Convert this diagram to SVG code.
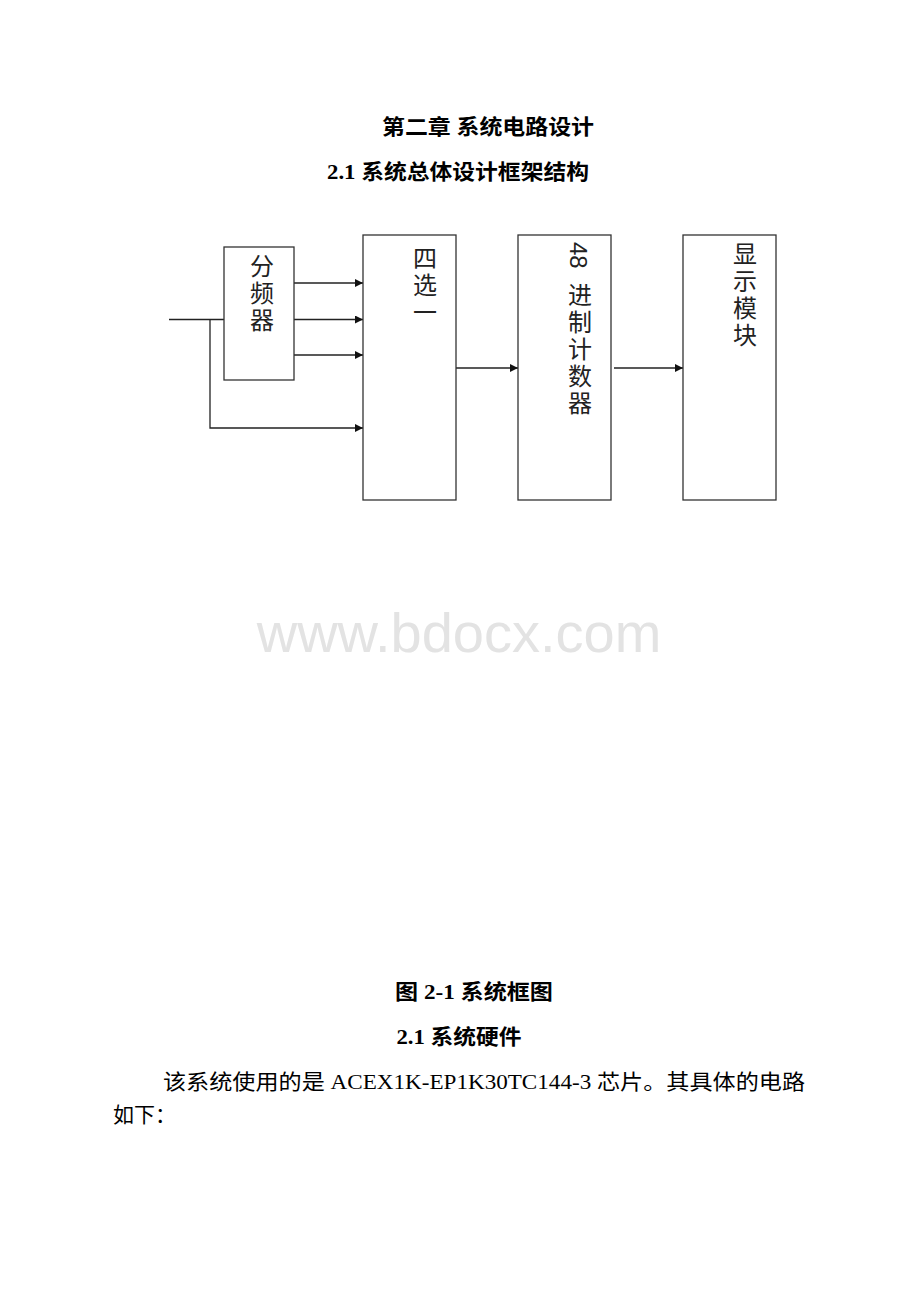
<svg xmlns="http://www.w3.org/2000/svg" width="920" height="1302" viewBox="0 0 920 1302">
<defs>
<marker id="arr" viewBox="0 0 10 10" refX="10" refY="5" markerWidth="8" markerHeight="8" markerUnits="userSpaceOnUse" orient="auto">
<path d="M0,0 L10,5 L0,10 z" fill="#111"/>
</marker>
<style>
.box{fill:#fff;stroke:#333;stroke-width:1.3}
.ln{fill:none;stroke:#222;stroke-width:1.3}
.lbl{font-family:"Liberation Sans","Noto Sans CJK SC",sans-serif;font-size:24px;fill:#222;writing-mode:vertical-rl;letter-spacing:3px}
.h{font-family:"Liberation Serif","Noto Sans CJK SC",serif;font-weight:bold;font-size:21px;fill:#000;text-anchor:middle}
.body{font-family:"Liberation Serif","Noto Sans CJK SC",serif;font-size:21px;fill:#000}
.wm{font-family:"Liberation Sans",Arial,sans-serif;font-size:56px;fill:#e3e3e3;text-anchor:middle}
</style>
</defs>
<rect width="920" height="1302" fill="#fff"/>
<text class="h" x="488" y="134" textLength="212" lengthAdjust="spacingAndGlyphs">第二章 系统电路设计</text>
<text class="h" x="458" y="179" textLength="262" lengthAdjust="spacingAndGlyphs">2.1 系统总体设计框架结构</text>

<g id="connectors">
<path class="ln" d="M169,319.5 H224"/>
<path class="ln" d="M210,319.5 V428 H363" marker-end="url(#arr)"/>
<path class="ln" d="M294,283 H363" marker-end="url(#arr)"/>
<path class="ln" d="M294,319.5 H363" marker-end="url(#arr)"/>
<path class="ln" d="M294,355 H363" marker-end="url(#arr)"/>
<path class="ln" d="M456,368 H518" marker-end="url(#arr)"/>
<path class="ln" d="M614,368 H683" marker-end="url(#arr)"/>
</g>

<g id="divider">
<rect class="box" x="224" y="247" width="70" height="133"/>
<text class="lbl" x="260" y="254">分频器</text>
</g>

<g id="mux">
<rect class="box" x="363" y="235" width="93" height="265"/>
<text class="lbl" x="423" y="246">四选一</text>
</g>

<g id="counter">
<rect class="box" x="518" y="235" width="93" height="265"/>
<text class="lbl" x="578" y="242"><tspan style="letter-spacing:0">48</tspan><tspan style="letter-spacing:8px"> </tspan>进制计数器</text>
</g>

<g id="display">
<rect class="box" x="683" y="235" width="93" height="265"/>
<text class="lbl" x="743" y="242">显示模块</text>
</g>

<text class="wm" x="459" y="652">www.bdocx.com</text>

<text class="h" x="474" y="999" textLength="158" lengthAdjust="spacingAndGlyphs">图 2-1 系统框图</text>
<text class="h" x="459" y="1044" textLength="125" lengthAdjust="spacingAndGlyphs">2.1 系统硬件</text>
<text class="body" x="163" y="1089" textLength="642" lengthAdjust="spacingAndGlyphs">该系统使用的是 ACEX1K-EP1K30TC144-3 芯片。其具体的电路</text>
<text class="body" x="113" y="1122">如下：</text>
</svg>
